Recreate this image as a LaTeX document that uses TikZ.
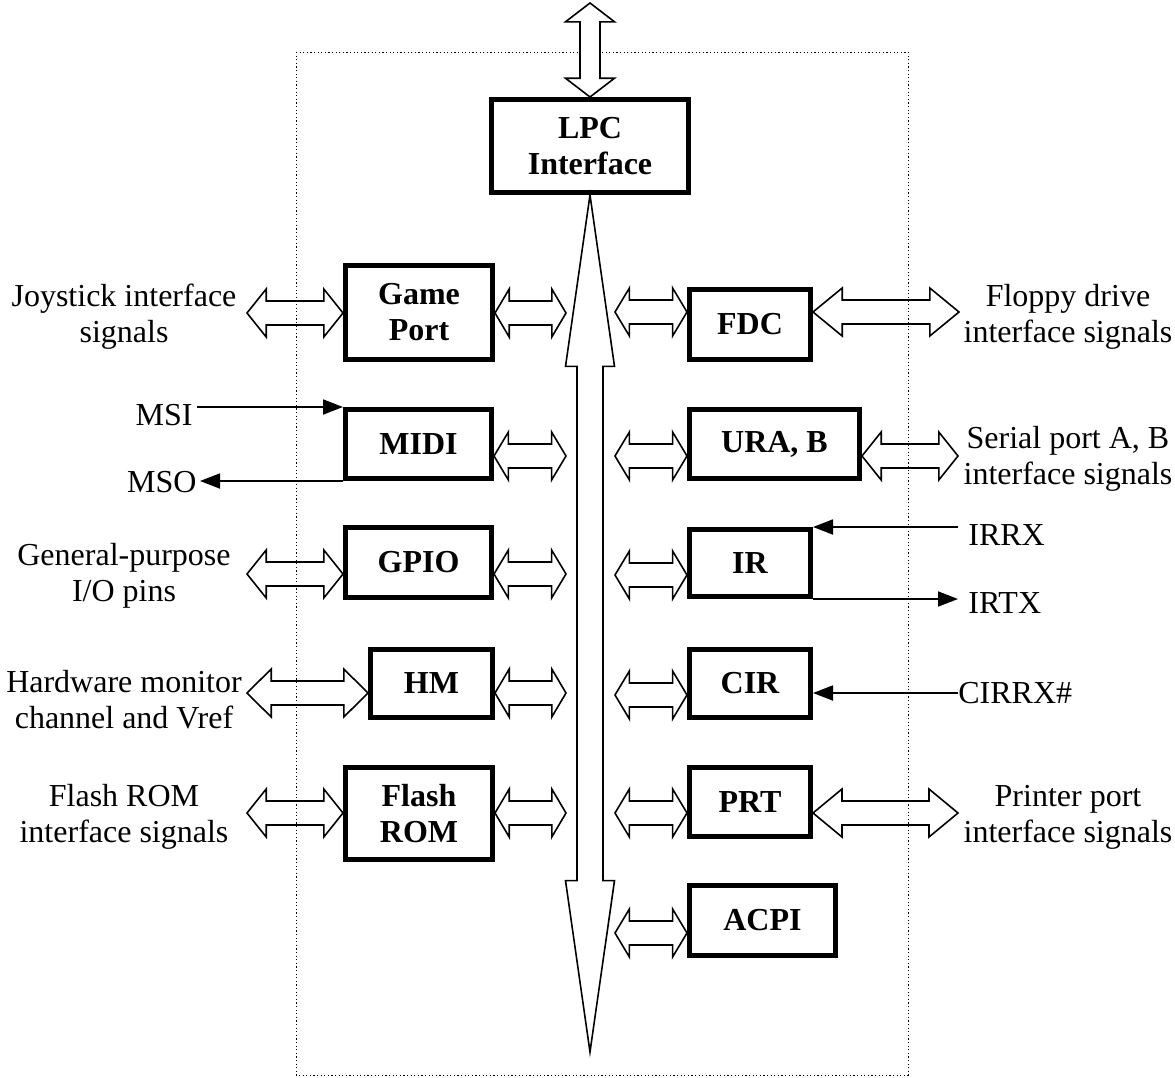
\documentclass[tikz,border=0pt]{standalone}
\usepackage{fontspec}
\setmainfont{Liberation Serif}
\usetikzlibrary{calc,arrows.meta}

\tikzset{
  block/.style   = {draw, line width=2.5pt, inner sep=0pt, align=center,
                    font=\fontsize{16}{18}\selectfont\bfseries},
  signame/.style = {inner sep=0pt, align=center, font=\fontsize{16}{18}\selectfont},
  busline/.style = {draw, line width=0.8pt, line join=miter},
  wire/.style    = {line width=0.9pt, -{Triangle[length=10pt,width=7.5pt]}},
}

% hollow double arrow: [options]{from}{to}{head half width}{shaft half width}
\newcommand{\hollowarrow}[5][]{%
  \coordinate (hs) at (#2);
  \coordinate (he) at (#3);
  \coordinate (ha) at ($(hs)!0.2!(he)$);
  \coordinate (hb) at ($(he)!0.2!(hs)$);
  \draw[busline,#1] (hs) -- ($(ha)!#4!90:(he)$) -- ($(ha)!#5!90:(he)$)
        -- ($(hb)!#5!-90:(hs)$) -- ($(hb)!#4!-90:(hs)$) -- (he)
        -- ($(hb)!#4!90:(hs)$) -- ($(hb)!#5!90:(hs)$)
        -- ($(ha)!#5!-90:(he)$) -- ($(ha)!#4!-90:(he)$) -- cycle;
}

\begin{document}
\begin{tikzpicture}[x=0.5pt, y=-0.5pt]
        \useasboundingbox (0,0) rectangle (1175,1078);
        % dotted frame of the chip
        \draw[line width=0.5pt, dash pattern=on 0.6pt off 1.2pt] (296,52) rectangle (908,1075);
        % drawing the blocks
        \node[block, minimum width=98.5pt, minimum height=46.5pt] (lpc)   at (590, 146)   {LPC\\Interface};
        \node[block, minimum width=73.5pt, minimum height=47pt]   (game)  at (419, 312.5) {Game\\Port};
        \node[block, minimum width=73pt,   minimum height=34.5pt] (midi)  at (418.5, 444) {MIDI};
        \node[block, minimum width=73pt,   minimum height=35pt]   (gpio)  at (418.5, 562.5) {GPIO};
        \node[block, minimum width=61pt,   minimum height=34pt]   (hm)    at (431.5, 683.5) {HM};
        \node[block, minimum width=73.5pt, minimum height=46pt]   (flash) at (419, 813.5) {Flash\\ROM};
        \node[block, minimum width=60.5pt, minimum height=35pt]   (fdc)   at (750, 324.5) {FDC};
        \node[block, minimum width=85pt,   minimum height=34.5pt] (ura)   at (774.5, 444) {URA, B};
        \node[block, minimum width=60.5pt, minimum height=33.5pt] (ir)    at (750, 563)   {IR};
        \node[block, minimum width=60.5pt, minimum height=34pt]   (cir)   at (750, 683.5) {CIR};
        \node[block, minimum width=60.5pt, minimum height=34.5pt] (prt)   at (750, 802)   {PRT};
        \node[block, minimum width=73pt,   minimum height=35pt]   (acpi)  at (762.5, 920.5) {ACPI};
        % signal names outside
        \node[signame] (joytext)     at (124, 317)  {Joystick interface\\signals};
        \node[signame] (gptext)      at (124, 576)  {General-purpose\\I/O pins};
        \node[signame] (hwtext)      at (124, 700)  {Hardware monitor\\channel and Vref};
        \node[signame] (flashtext)   at (124, 817)  {Flash ROM\\interface signals};
        \node[signame] (floppytext)  at (1068, 317) {Floppy drive\\interface signals};
        \node[signame] (serialtext)  at (1068, 459) {Serial port A, B\\interface signals};
        \node[signame] (printertext) at (1068, 817) {Printer port\\interface signals};
        \node[signame, anchor=east, inner xsep=2pt]   (msi)   at (197, 415) {MSI};
        \node[signame, anchor=east, inner xsep=1.5pt] (mso)   at (200, 482) {MSO};
        \node[signame, anchor=west, inner xsep=5pt]   (irrx)  at (958, 535) {IRRX};
        \node[signame, anchor=west, inner xsep=5pt]   (irtx)  at (958, 603) {IRTX};
        \node[signame, anchor=west]                   (cirrx) at (958, 693) {CIRRX\#};
        % coordinates for the bus ends
        \coordinate (bustop)   at (590, 3);
        \coordinate (busend)   at (590, 1052);
        \coordinate (gamebus)  at (566, 313);
        \coordinate (midibus)  at (566, 456);
        \coordinate (gpiobus)  at (566, 574);
        \coordinate (hmbus)    at (566, 693);
        \coordinate (flashbus) at (566, 813);
        \coordinate (fdcbus)   at (615, 312);
        \coordinate (urabus)   at (615, 456);
        \coordinate (irbus)    at (615, 575);
        \coordinate (cirbus)   at (615, 695);
        \coordinate (prtbus)   at (615, 813);
        \coordinate (acpibus)  at (615, 933);
        % coordinates for the outer ends
        \coordinate (joyend)     at (247, 313);
        \coordinate (gpend)      at (247, 574);
        \coordinate (hwend)      at (247, 693);
        \coordinate (flashend)   at (247, 813);
        \coordinate (floppyend)  at (959, 312);
        \coordinate (serialend)  at (958, 456);
        \coordinate (printerend) at (958, 813);
        % drawing the LPC bus
        \hollowarrow[fill=white]{bustop}{lpc.north}{12.25pt}{5pt}
        \hollowarrow{lpc.south}{busend}{12.25pt}{6.5pt}
        % drawing the arrows to the bus
        \hollowarrow{game.east |- gamebus}{gamebus}{12pt}{6pt}
        \hollowarrow{midi.east |- midibus}{midibus}{12pt}{6pt}
        \hollowarrow{gpio.east |- gpiobus}{gpiobus}{12pt}{6pt}
        \hollowarrow{hm.east |- hmbus}{hmbus}{12pt}{6pt}
        \hollowarrow{flash.east |- flashbus}{flashbus}{12pt}{6pt}
        \hollowarrow{fdcbus}{fdc.west |- fdcbus}{12pt}{6pt}
        \hollowarrow{urabus}{ura.west |- urabus}{12pt}{6pt}
        \hollowarrow{irbus}{ir.west |- irbus}{12pt}{6pt}
        \hollowarrow{cirbus}{cir.west |- cirbus}{12pt}{6pt}
        \hollowarrow{prtbus}{prt.west |- prtbus}{12pt}{6pt}
        \hollowarrow{acpibus}{acpi.west |- acpibus}{12pt}{6pt}
        % drawing the arrows to the outside
        \hollowarrow{joyend}{game.west |- joyend}{12pt}{6pt}
        \hollowarrow{gpend}{gpio.west |- gpend}{12pt}{6pt}
        \hollowarrow{hwend}{hm.west |- hwend}{12pt}{6pt}
        \hollowarrow{flashend}{flash.west |- flashend}{12pt}{6pt}
        \hollowarrow{fdc.east |- floppyend}{floppyend}{12pt}{6pt}
        \hollowarrow{ura.east |- serialend}{serialend}{12pt}{6pt}
        \hollowarrow{prt.east |- printerend}{printerend}{12pt}{6pt}
        % drawing the single signals
        \draw[wire] (msi.east |- midi.north west) -- (midi.north west);
        \draw[wire] (midi.south west) -- (mso.east |- midi.south west);
        \draw[wire] (irrx.west |- ir.north east) -- (ir.north east);
        \draw[wire] (ir.south east) -- (irtx.west |- ir.south east);
        \draw[wire] (cirrx.west) -- (cir.east |- cirrx.west);
\end{tikzpicture}
\end{document}
